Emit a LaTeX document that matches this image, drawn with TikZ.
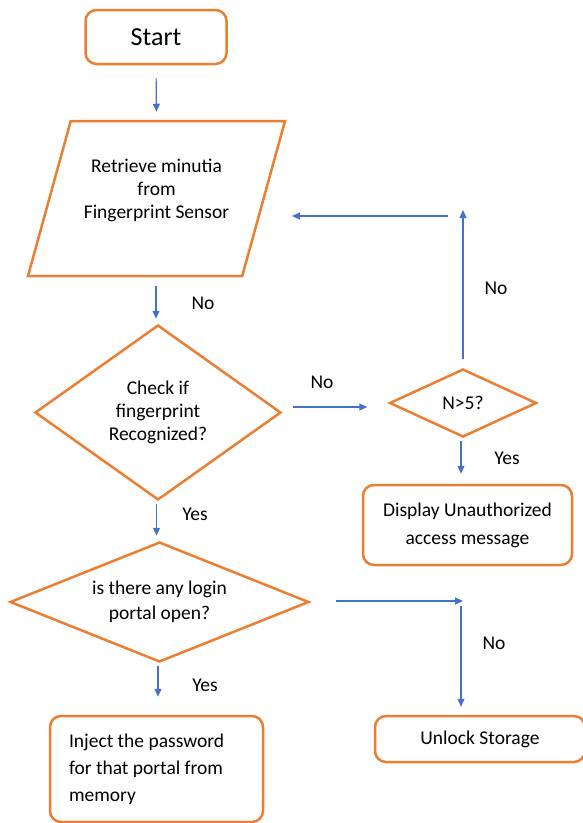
\documentclass[tikz,border=0pt]{standalone}
\usepackage{fontspec}
\setmainfont{Carlito}
\usetikzlibrary{shapes.geometric,arrows.meta}
\definecolor{boxorange}{RGB}{237,125,49}
\definecolor{flowblue}{RGB}{68,114,196}

\begin{document}
\begin{tikzpicture}[x=1pt,y=1pt]
		\tikzstyle{every node}=[font=\fontsize{19.5}{23}\selectfont]
		\tikzstyle{block}=[draw=boxorange,line width=2.5pt,rounded corners=11pt,align=center]
		\tikzstyle{decision}=[diamond,draw=boxorange,line width=2.5pt,align=center,inner sep=0pt]
		\tikzstyle{io}=[trapezium,trapezium left angle=76,trapezium right angle=104,trapezium stretches=true,draw=boxorange,line width=2.5pt]
		\tikzstyle{flow}=[draw=flowblue,line width=1.2pt,-{Triangle[length=8pt,width=7pt]}]
		\tikzstyle{annot}=[inner sep=0pt]

		\useasboundingbox (0,0) rectangle (583,-823);

			% Draw the boxes of the left column
		\node[block,minimum width=141pt,minimum height=54pt,font=\fontsize{26}{30}\selectfont] (start) at (156,-37) {Start};
		\node[io,minimum width=257pt,minimum height=155pt] (retrieve) at (156.5,-198.5) {};
		\node[align=center] (retrieve-text) at (156.5,-190) {Retrieve minutia\\from\\Fingerprint Sensor};
		\node[decision,aspect=1.4,minimum width=246pt,minimum height=175pt] (check) at (158,-412.5) {Check if\\fingerprint\\Recognized?};
		\node[decision,aspect=2.5,minimum width=299pt,minimum height=120pt,font=\fontsize{19.5}{25}\selectfont] (portal) at (159.5,-602) {is there any login\\portal open?};
		\node[block,minimum width=213pt,minimum height=106pt,text width=175pt,align=flush left,font=\fontsize{19.5}{27}\selectfont] (inject) at (156.5,-769) {Inject the password\\for that portal from\\memory};

			% Draw the boxes of the right column
		\node[decision,aspect=2.2,minimum width=147pt,minimum height=68pt] (n5) at (463,-403) {N>5?};
		\node[block,minimum width=209pt,minimum height=80pt,font=\fontsize{19.5}{28}\selectfont] (display) at (467.5,-525) {Display Unauthorized\\access message};
		\node[block,minimum width=210pt,minimum height=46pt] (unlock) at (480,-739) {Unlock Storage};

		\coordinate (loop) at (463,-210);
		\coordinate (back) at (448,-216);
		\coordinate (turn) at (461,-601);

			% Connect the boxes
		\draw[flow,shorten <=13pt,shorten >=8pt] (start.south) -- (retrieve.north);
		\draw[flow,shorten <=9pt,shorten >=5pt] ([xshift=-0.5pt]retrieve.south) -- ([xshift=-0.5pt]retrieve.south |- check.north);
		\draw[flow,shorten <=11pt,shorten >=21pt] ([yshift=5.5pt]check.east) -- ([yshift=-4pt]n5.west);
		\draw[flow,shorten <=9pt] (n5.north) -- (loop);
		\draw[flow,shorten >=27pt] (back) -- (retrieve.east |- back);
		\draw[flow,shorten <=3pt,shorten >=10pt] ([xshift=-2pt]n5.south) -- ([xshift=-2pt]n5.south |- display.north);
		\draw[flow,shorten <=3pt,shorten >=5pt] ([xshift=-1.5pt]check.south) -- ([xshift=-1.5pt]check.south |- portal.north);
		\draw[flow,shorten <=3pt,shorten >=18pt] ([xshift=-1.5pt]portal.south) -- ([xshift=-1.5pt]portal.south |- inject.north);
		\draw[flow,shorten <=26pt,shorten >=-2pt] (portal.east |- turn) -- (turn);
		\draw[flow,shorten <=5pt,shorten >=8pt] (turn) -- (turn |- unlock.north);

			% Annotate the branches
		\node[annot] (no-1) at (203,-303) {No};
		\node[annot] (no-2) at (322,-382) {No};
		\node[annot] (no-3) at (496,-288) {No};
		\node[annot] (yes-1) at (507,-458) {Yes};
		\node[annot] (yes-2) at (195,-514) {Yes};
		\node[annot] (no-4) at (494,-643) {No};
		\node[annot] (yes-3) at (205,-685) {Yes};
\end{tikzpicture}
\end{document}
